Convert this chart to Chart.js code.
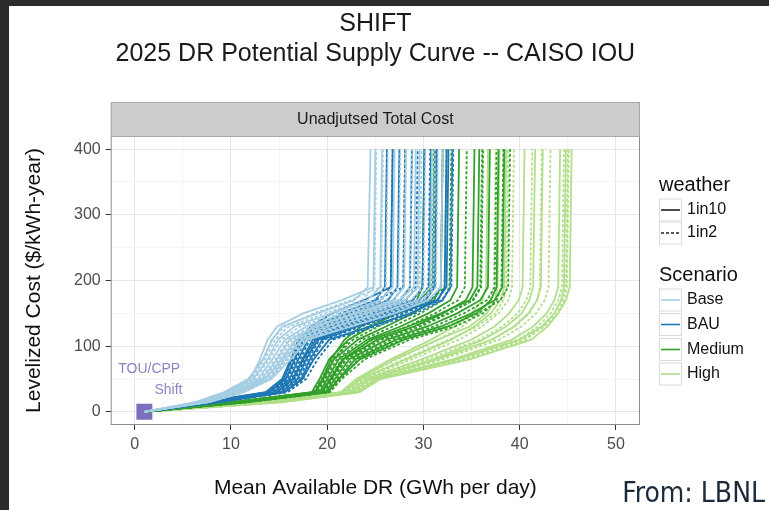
<!DOCTYPE html>
<html>
<head>
<meta charset="utf-8">
<script src="https://cdn.jsdelivr.net/npm/chart.js@4.4.1/dist/chart.umd.min.js"></script>
<style>
  html, body { margin: 0; padding: 0; background: #2b2b2b; }
  #wrap { position: relative; width: 769px; height: 510px; overflow: hidden; }
  #paper { position: absolute; left: 9px; top: 6px; width: 760px; height: 504px; background: #ffffff; }
  #c { position: absolute; left: 0; top: 0; width: 769px; height: 510px; }
</style>
</head>
<body>
<div id="wrap">
  <div id="paper"></div>
  <canvas id="c" width="769" height="510"></canvas>
</div>
<script>
// ---- Data ----
// Cost levels ($/kWh-year) at which each supply curve's available DR (GWh/day) is read
const costLevels = [0, 15, 30, 50, 80, 110, 130, 150, 170, 190, 400];

// Base scenario
const base1in10 = [
  [1, 6.3, 9.3, 11.8, 13.3, 14.3, 15.3, 19.0, 22.8, 24.2, 24.5],
  [1, 6.5, 9.5, 12.0, 13.0, 13.8, 14.8, 17.5, 21.5, 24.8, 25.0],
  [1, 6.6, 9.7, 12.3, 13.8, 14.9, 16.6, 20.4, 24.2, 25.5, 25.7],
  [1, 6.9, 10.1, 12.8, 14.3, 15.6, 17.8, 21.7, 25.5, 26.8, 27.0],
  [1, 7.1, 10.5, 13.2, 14.8, 16.1, 18.8, 22.9, 26.8, 28.0, 28.2],
  [1, 7.0, 10.6, 13.5, 15.3, 16.8, 18.5, 23.0, 27.5, 29.0, 29.2],
  [1, 7.4, 10.9, 13.6, 15.2, 16.7, 19.8, 24.1, 28.1, 29.4, 29.6],
  [1, 7.7, 11.3, 14.0, 15.6, 17.3, 20.8, 25.3, 29.4, 30.7, 30.9],
  [1, 7.6, 11.2, 14.2, 16.2, 18.0, 22.5, 27.0, 30.5, 31.8, 32.0]
];
const base1in2 = [
  [1, 6.4, 9.4, 12.0, 13.5, 14.6, 16.0, 19.8, 23.6, 24.9, 25.1],
  [1, 6.5, 9.6, 12.2, 13.4, 14.2, 15.6, 18.6, 22.4, 25.6, 25.8],
  [1, 6.7, 9.9, 12.5, 14.0, 15.2, 17.2, 21.0, 24.8, 26.1, 26.3],
  [1, 7.0, 10.3, 13.0, 14.6, 15.9, 18.3, 22.3, 26.1, 27.4, 27.6],
  [1, 7.2, 10.7, 13.4, 15.0, 16.4, 19.3, 23.5, 27.4, 28.6, 28.8],
  [1, 7.1, 10.8, 13.7, 15.5, 17.0, 19.0, 23.6, 27.9, 29.6, 29.8],
  [1, 7.5, 11.0, 13.8, 15.4, 16.9, 20.2, 24.6, 28.7, 30.0, 30.2],
  [1, 7.8, 11.4, 14.2, 15.8, 17.5, 21.3, 25.9, 30.0, 31.3, 31.5],
  [1, 7.5, 11.1, 14.0, 15.9, 17.7, 22.0, 26.5, 29.9, 31.0, 31.2]
];
// BAU scenario
const bau1in10 = [
  [1, 7.2, 13.6, 15.3, 16.2, 17.0, 18.6, 21.8, 25.0, 26.0, 26.2],
  [1, 7.4, 13.9, 15.5, 16.3, 17.2, 18.3, 20.5, 23.8, 26.6, 26.8],
  [1, 7.5, 14.0, 15.7, 16.6, 17.5, 19.5, 22.9, 26.3, 27.3, 27.5],
  [1, 7.8, 14.4, 16.1, 17.0, 18.0, 20.4, 24.0, 27.6, 28.6, 28.8],
  [1, 8.1, 14.8, 16.5, 17.4, 18.5, 21.3, 25.1, 28.9, 29.9, 30.1],
  [1, 8.0, 14.7, 16.4, 17.5, 18.8, 22.0, 26.5, 29.5, 30.6, 30.8],
  [1, 8.4, 15.2, 16.9, 17.8, 19.0, 22.2, 26.2, 30.2, 31.2, 31.4],
  [1, 8.7, 15.6, 17.3, 18.2, 19.5, 23.1, 27.3, 31.4, 32.4, 32.6],
  [1, 8.6, 15.5, 17.4, 18.6, 20.2, 24.5, 28.6, 31.5, 32.2, 32.4]
];
const bau1in2 = [
  [1, 7.3, 13.8, 15.5, 16.4, 17.2, 19.0, 22.3, 25.6, 26.6, 26.8],
  [1, 7.6, 14.1, 15.8, 16.7, 17.6, 18.9, 21.4, 25.0, 27.9, 28.1],
  [1, 7.6, 14.2, 15.9, 16.8, 17.7, 19.9, 23.4, 26.9, 27.9, 28.1],
  [1, 7.9, 14.6, 16.3, 17.2, 18.2, 20.8, 24.5, 28.2, 29.2, 29.4],
  [1, 8.2, 15.0, 16.7, 17.6, 18.7, 21.7, 25.6, 29.5, 30.5, 30.7],
  [1, 8.2, 14.9, 16.6, 17.7, 19.1, 22.6, 27.0, 30.0, 31.0, 31.2],
  [1, 8.5, 15.4, 17.1, 18.0, 19.2, 22.6, 26.7, 30.8, 31.8, 32.0],
  [1, 8.8, 15.8, 17.5, 18.4, 19.7, 23.5, 27.8, 31.9, 32.9, 33.1],
  [1, 8.9, 15.9, 17.8, 19.0, 20.6, 25.0, 29.2, 32.0, 32.8, 33.0]
];
// Medium scenario
const medium1in10 = [
  [1, 10.2, 18.4, 19.2, 20.2, 22.2, 24.6, 27.2, 29.3, 29.9, 30.1],
  [1, 10.4, 18.7, 19.5, 20.4, 21.8, 23.5, 26.0, 29.5, 31.0, 31.2],
  [1, 10.5, 18.8, 19.6, 20.7, 23.2, 26.1, 28.9, 31.1, 31.8, 32.0],
  [1, 10.8, 19.2, 20.0, 21.2, 24.2, 27.6, 30.5, 32.8, 33.5, 33.7],
  [1, 11.1, 19.5, 20.4, 21.7, 25.2, 29.0, 32.0, 34.4, 35.1, 35.3],
  [1, 11.0, 19.4, 20.3, 21.6, 24.6, 28.4, 31.8, 34.8, 35.6, 35.8],
  [1, 11.4, 19.8, 20.8, 22.3, 26.2, 30.4, 33.5, 35.9, 36.7, 36.9],
  [1, 11.6, 20.0, 21.2, 23.4, 28.0, 32.6, 35.5, 37.0, 37.6, 37.8],
  [1, 11.7, 20.1, 21.2, 22.9, 27.2, 31.8, 35.0, 37.4, 38.2, 38.4]
];
const medium1in2 = [
  [1, 10.3, 18.6, 19.4, 20.5, 22.7, 25.3, 28.0, 30.2, 30.9, 31.1],
  [1, 10.6, 18.9, 19.7, 20.7, 22.3, 24.2, 27.2, 30.8, 32.2, 32.4],
  [1, 10.6, 19.0, 19.8, 21.0, 23.7, 26.8, 29.7, 32.0, 32.7, 32.9],
  [1, 10.9, 19.3, 20.2, 21.5, 24.7, 28.3, 31.2, 33.6, 34.3, 34.5],
  [1, 11.2, 19.6, 20.6, 22.0, 25.7, 29.7, 32.7, 35.1, 35.9, 36.1],
  [1, 11.2, 19.6, 20.5, 21.9, 25.3, 29.2, 32.5, 35.2, 36.0, 36.2],
  [1, 11.5, 19.9, 21.0, 22.6, 26.7, 31.1, 34.2, 36.6, 37.4, 37.6],
  [1, 11.9, 20.3, 21.5, 23.9, 28.6, 33.3, 36.2, 37.6, 38.1, 38.3],
  [1, 11.8, 20.2, 21.4, 23.2, 27.7, 32.5, 35.7, 38.0, 38.8, 39.0]
];
// High scenario
const high1in10 = [
  [1, 13.0, 21.4, 23.0, 26.6, 30.8, 33.2, 35.0, 36.1, 36.5, 36.7],
  [1, 13.3, 21.7, 23.3, 27.0, 31.5, 34.8, 36.6, 37.4, 37.7, 37.9],
  [1, 13.5, 21.8, 23.5, 28.2, 32.9, 35.3, 37.0, 38.0, 38.4, 38.6],
  [1, 14.0, 22.2, 24.0, 29.8, 35.0, 37.4, 38.9, 39.9, 40.3, 40.5],
  [1, 14.3, 22.5, 24.4, 31.0, 36.2, 38.6, 40.2, 41.0, 41.4, 41.6],
  [1, 14.5, 22.6, 24.5, 31.4, 37.1, 39.4, 40.9, 41.8, 42.2, 42.4],
  [1, 15.0, 23.0, 25.0, 33.0, 39.2, 41.4, 42.8, 43.6, 44.0, 44.2],
  [1, 15.1, 23.2, 25.2, 33.5, 40.0, 42.3, 43.6, 44.3, 44.6, 44.8],
  [1, 15.5, 23.4, 25.5, 34.8, 41.2, 42.9, 44.0, 44.8, 45.2, 45.4]
];
const high1in2 = [
  [1, 13.2, 21.6, 23.2, 27.2, 31.6, 34.0, 35.8, 36.9, 37.3, 37.5],
  [1, 13.6, 21.9, 23.6, 27.9, 32.6, 35.6, 37.5, 38.3, 38.6, 38.8],
  [1, 13.7, 22.0, 23.7, 28.8, 33.7, 36.1, 37.8, 38.8, 39.2, 39.4],
  [1, 14.2, 22.4, 24.2, 30.4, 35.8, 38.2, 39.8, 40.7, 41.1, 41.3],
  [1, 14.6, 22.7, 24.6, 31.8, 37.2, 39.5, 41.0, 41.8, 42.1, 42.3],
  [1, 14.7, 22.8, 24.7, 32.0, 37.9, 40.2, 41.7, 42.6, 43.0, 43.2],
  [1, 15.2, 23.2, 25.2, 33.6, 39.9, 41.9, 43.2, 44.0, 44.4, 44.6],
  [1, 15.3, 23.3, 25.3, 34.0, 40.4, 42.6, 43.9, 44.6, 44.9, 45.1],
  [1, 15.4, 23.3, 25.4, 34.3, 40.6, 42.5, 43.6, 44.4, 44.8, 45.0]
];

// TOU/CPP Shift point
const touX = [1.0];
const touY = [0];

// Axis ticks
const xMajorTicks = [0, 10, 20, 30, 40, 50];
const xMinorTicks = [5, 15, 25, 35, 45];
const yMajorTicks = [0, 100, 200, 300, 400];
const yMinorTicks = [50, 150, 250, 350];

const scenarioNames = ['Base', 'BAU', 'Medium', 'High'];
const weatherNames = ['1in10', '1in2'];

// ---- Styles ----
const scenarioColors = { Base: '#a6cee3', BAU: '#1f78b4', Medium: '#33a02c', High: '#b2df8a' };
const weatherDash = { '1in10': [], '1in2': [3, 2] };
const FONT = '"Liberation Sans", Arial, Helvetica, sans-serif';

const groups = [
  ['Base', base1in10, base1in2],
  ['BAU', bau1in10, bau1in2],
  ['Medium', medium1in10, medium1in2],
  ['High', high1in10, high1in2]
];

const datasets = [];
groups.forEach(([name, solid, dashed]) => {
  for (let i = 0; i < solid.length; i++) {
    [[solid[i], '1in10'], [dashed[i], '1in2']].forEach(([xs, w]) => {
      datasets.push({
        label: name + ' ' + w,
        data: xs.map((x, j) => ({ x: x, y: costLevels[j] })),
        borderColor: scenarioColors[name],
        borderWidth: 1.8,
        borderDash: weatherDash[w],
        pointRadius: 0,
        pointHoverRadius: 0,
        tension: 0,
        fill: false
      });
    });
  }
});
datasets.push({
  type: 'scatter',
  label: 'TOU/CPP Shift',
  data: touX.map((x, i) => ({ x: x, y: touY[i] })),
  pointStyle: 'rect',
  pointRadius: 11.3,
  pointHoverRadius: 11.3,
  backgroundColor: '#7b70bd',
  borderWidth: 0
});

const annotations = [
  { text: 'TOU/CPP', x: 1.5, y: 65 },
  { text: 'Shift', x: 3.5, y: 33 }
];

const isMajorX = v => xMajorTicks.includes(v);
const isMajorY = v => yMajorTicks.includes(v);

const decor = {
  id: 'decor',
  afterDraw(chart) {
    const ctx = chart.ctx;
    const a = chart.chartArea;
    const xs = chart.scales.x, ys = chart.scales.y;
    ctx.save();
    // panel border
    ctx.strokeStyle = '#8c8c8c';
    ctx.lineWidth = 1;
    ctx.strokeRect(a.left + 0.5, a.top + 0.5, a.right - a.left - 1, a.bottom - a.top - 1);
    // facet strip
    ctx.fillStyle = '#cccccc';
    ctx.fillRect(a.left, 102, a.right - a.left, a.top - 102);
    ctx.strokeStyle = '#a8a8a8';
    ctx.strokeRect(a.left + 0.5, 102.5, a.right - a.left - 1, a.top - 102);
    ctx.fillStyle = '#1a1a1a';
    ctx.font = '16px ' + FONT;
    ctx.textAlign = 'center';
    ctx.textBaseline = 'middle';
    ctx.fillText('Unadjutsed Total Cost', (a.left + a.right) / 2, (102 + a.top) / 2 + 1);

    // annotations
    ctx.fillStyle = '#8a84c4';
    ctx.font = '14px ' + FONT;
    annotations.forEach(t => {
      ctx.fillText(t.text, xs.getPixelForValue(t.x), ys.getPixelForValue(t.y));
    });

    // legend
    ctx.textAlign = 'left';
    const lx = 659, kw = 23;
    const drawKey = (cy, color, dash) => {
      ctx.fillStyle = '#ffffff';
      ctx.fillRect(lx, cy - 11.5, kw, 23);
      ctx.strokeStyle = '#dadada';
      ctx.lineWidth = 1;
      ctx.setLineDash([]);
      ctx.strokeRect(lx + 0.5, cy - 11.5 + 0.5, kw - 1, 22);
      ctx.strokeStyle = color;
      ctx.lineWidth = 1.6;
      ctx.setLineDash(dash);
      ctx.beginPath();
      ctx.moveTo(lx + 2, cy);
      ctx.lineTo(lx + kw - 2, cy);
      ctx.stroke();
      ctx.setLineDash([]);
    };
    ctx.fillStyle = '#111111';
    ctx.font = '20px ' + FONT;
    ctx.fillText('weather', lx, 185);
    const wy = [210, 233];
    weatherNames.forEach((w, i) => {
      drawKey(wy[i], '#222222', weatherDash[w]);
      ctx.fillStyle = '#111111';
      ctx.font = '16px ' + FONT;
      ctx.fillText(w, lx + kw + 5, wy[i]);
    });
    ctx.font = '20px ' + FONT;
    ctx.fillText('Scenario', lx, 275);
    const sy = [300, 324.5, 349.5, 374];
    scenarioNames.forEach((s, i) => {
      drawKey(sy[i], scenarioColors[s], []);
      ctx.fillStyle = '#111111';
      ctx.font = '16px ' + FONT;
      ctx.fillText(s, lx + kw + 5, sy[i]);
    });

    // source note
    ctx.fillStyle = '#1b2a3a';
    ctx.font = '28px "DejaVu Sans Condensed", "DejaVu Sans", sans-serif';
    ctx.textAlign = 'right';
    ctx.fillText('From: LBNL', 765, 495);
    ctx.restore();
  }
};

Chart.defaults.font.family = FONT;
Chart.defaults.animation = false;

new Chart(document.getElementById('c'), {
  type: 'line',
  data: { datasets: datasets },
  options: {
    responsive: false,
    animation: false,
    events: [],
    layout: { padding: { left: 0, right: 129, top: 0, bottom: 0 } },
    plugins: {
      legend: { display: false },
      tooltip: { enabled: false },
      title: {
        display: true,
        fullSize: false,
        text: ['SHIFT', '2025 DR Potential Supply Curve -- CAISO IOU'],
        font: { size: 25, weight: 'normal', lineHeight: 1.2 },
        color: '#1a1a1a',
        padding: { top: 9, bottom: 67 }
      }
    },
    scales: {
      x: {
        type: 'linear',
        min: -2.5,
        max: 52.5,
        afterFit(s) { s.height = 85; },
        afterBuildTicks(s) {
          s.ticks = xMajorTicks.concat(xMinorTicks).sort((p, q) => p - q).map(v => ({ value: v }));
        },
        ticks: {
          autoSkip: false,
          maxRotation: 0,
          padding: 5,
          color: '#4d4d4d',
          font: { size: 16 },
          callback: v => (isMajorX(v) ? String(v) : '')
        },
        grid: {
          color: c => (c.tick && isMajorX(c.tick.value) ? '#e6e6e6' : '#f4f4f4'),
          tickColor: c => (c.tick && isMajorX(c.tick.value) ? '#333333' : 'rgba(0,0,0,0)'),
          tickLength: 5,
          lineWidth: 1
        },
        border: { display: false },
        title: {
          display: true,
          text: 'Mean Available DR (GWh per day)',
          color: '#111111',
          font: { size: 21, lineHeight: 1.2 },
          padding: { top: 0, bottom: 9.4 }
        }
      },
      y: {
        type: 'linear',
        min: -20,
        max: 420,
        afterFit(s) { s.width = 110.7; },
        afterBuildTicks(s) {
          s.ticks = yMajorTicks.concat(yMinorTicks).sort((p, q) => p - q).map(v => ({ value: v }));
        },
        ticks: {
          autoSkip: false,
          padding: 5,
          color: '#4d4d4d',
          font: { size: 16 },
          callback: v => (isMajorY(v) ? String(v) : '')
        },
        grid: {
          color: c => (c.tick && isMajorY(c.tick.value) ? '#e6e6e6' : '#f4f4f4'),
          tickColor: c => (c.tick && isMajorY(c.tick.value) ? '#333333' : 'rgba(0,0,0,0)'),
          tickLength: 5,
          lineWidth: 1
        },
        border: { display: false },
        title: {
          display: true,
          text: 'Levelized Cost ($/kWh-year)',
          color: '#111111',
          font: { size: 21, lineHeight: 1.2 },
          padding: { top: 21.4, bottom: 0 }
        }
      }
    }
  },
  plugins: [decor]
});
</script>
</body>
</html>
